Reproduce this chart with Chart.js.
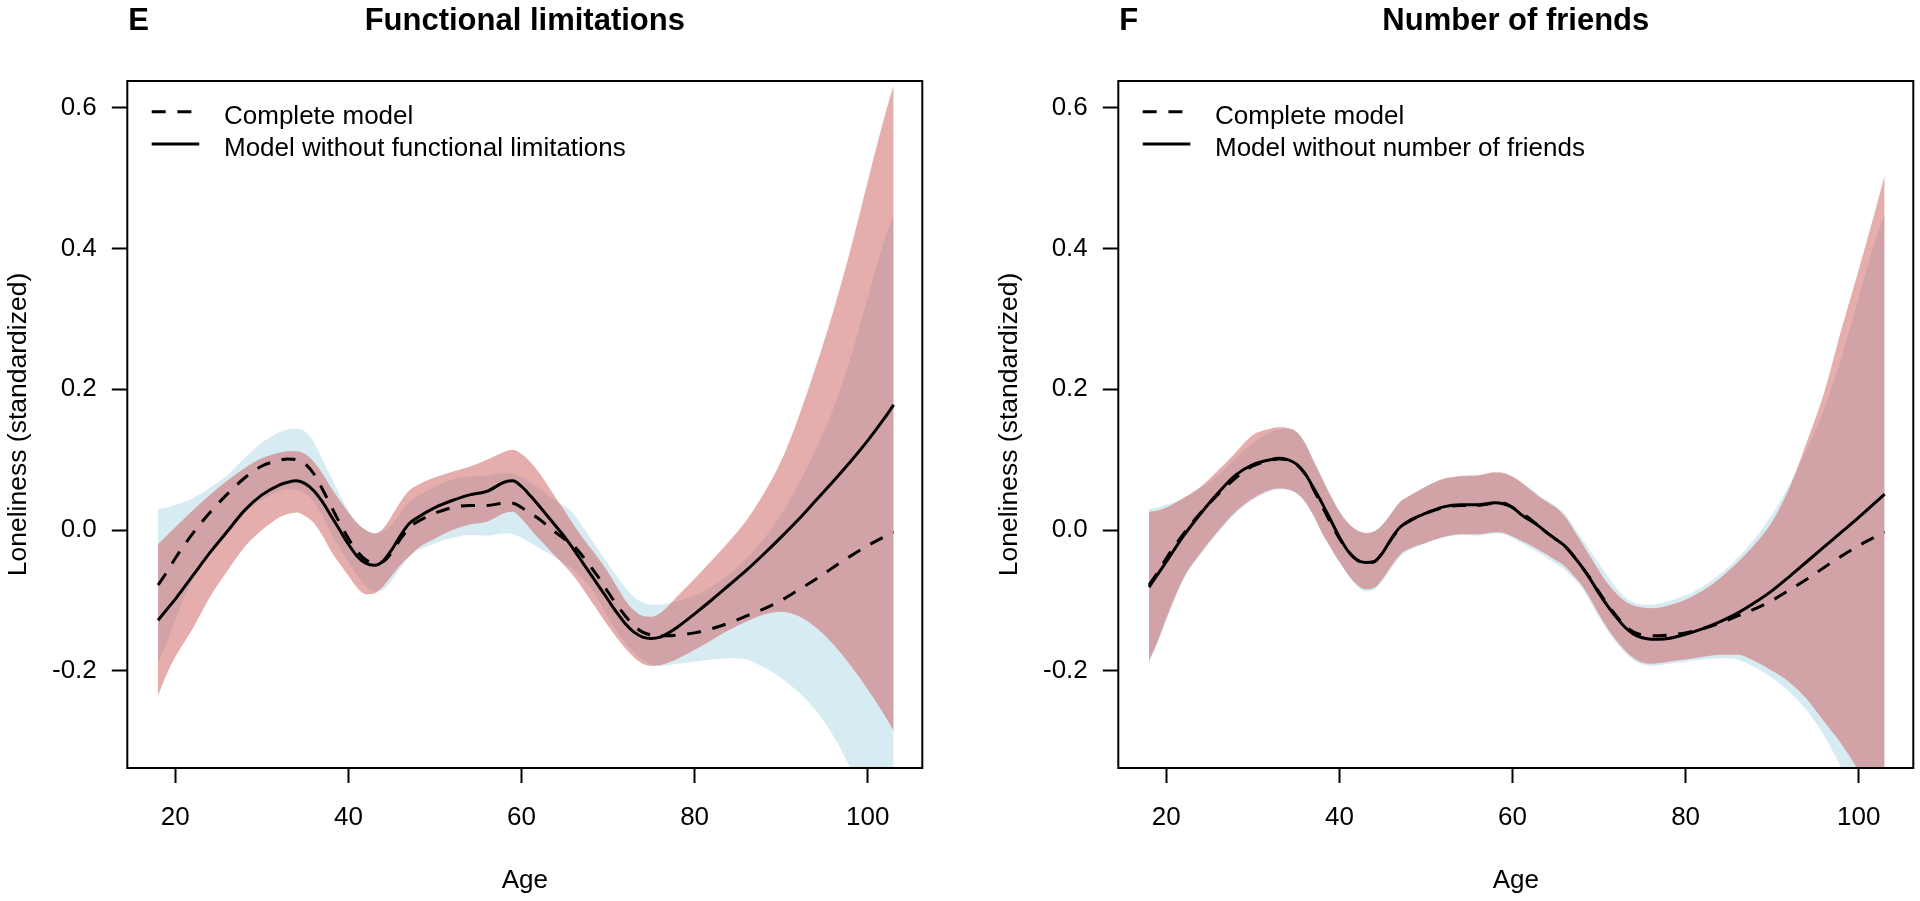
<!DOCTYPE html>
<html>
<head>
<meta charset="utf-8">
<script src="https://cdn.jsdelivr.net/npm/chart.js@4.4.1/dist/chart.umd.min.js"></script>
<style>
html,body{margin:0;padding:0;background:#fff;width:1920px;height:901px;overflow:hidden}
.panel{position:absolute;top:0;width:960px;height:901px}
</style>
</head>
<body>
<div class="panel" style="left:0"><canvas id="panelE" width="960" height="901"></canvas></div>
<div class="panel" style="left:960px"><canvas id="panelF" width="960" height="901"></canvas></div>
<script>
// ---------- DATA ----------
const ages = [18,19,20,22,24,26,28,30,32,33,34,35,36,37,38,39,40,41,42,43,44,45,46,47,48,50,52,54,56,58,59,60,61,62,63,64,65,66,67,68,69,70,71,72,73,74,75,76,77,78,80,82,84,86,88,90,92,94,96,98,100,102,103];

// Complete model (dashed line + light blue band), same in both panels
const completeEstimate = [-0.078,-0.060,-0.040,-0.005,0.025,0.051,0.074,0.091,0.099,0.101,0.100,0.094,0.080,0.058,0.034,0.010,-0.012,-0.030,-0.042,-0.047,-0.045,-0.032,-0.013,0.003,0.012,0.024,0.032,0.035,0.035,0.038,0.038,0.032,0.024,0.016,0.006,-0.004,-0.013,-0.022,-0.036,-0.052,-0.069,-0.088,-0.106,-0.122,-0.136,-0.145,-0.149,-0.150,-0.150,-0.149,-0.146,-0.140,-0.132,-0.122,-0.112,-0.100,-0.085,-0.070,-0.053,-0.037,-0.022,-0.009,-0.003];
const completeUpper = [0.030,0.032,0.036,0.045,0.060,0.078,0.102,0.124,0.139,0.143,0.144,0.140,0.125,0.100,0.075,0.050,0.028,0.010,0.000,-0.004,-0.002,0.008,0.024,0.040,0.048,0.062,0.072,0.076,0.077,0.081,0.080,0.075,0.068,0.060,0.050,0.042,0.034,0.024,0.006,-0.012,-0.030,-0.048,-0.066,-0.082,-0.095,-0.103,-0.106,-0.106,-0.104,-0.101,-0.093,-0.080,-0.062,-0.040,-0.012,0.022,0.065,0.115,0.172,0.245,0.330,0.415,0.448];
const completeLower = [-0.188,-0.160,-0.128,-0.070,-0.034,-0.003,0.024,0.043,0.055,0.058,0.057,0.052,0.040,0.020,-0.005,-0.026,-0.046,-0.064,-0.079,-0.087,-0.085,-0.072,-0.054,-0.038,-0.029,-0.019,-0.011,-0.007,-0.008,-0.005,-0.006,-0.011,-0.018,-0.025,-0.032,-0.040,-0.048,-0.056,-0.068,-0.082,-0.102,-0.124,-0.143,-0.160,-0.174,-0.185,-0.191,-0.193,-0.192,-0.190,-0.187,-0.184,-0.182,-0.184,-0.195,-0.210,-0.230,-0.256,-0.292,-0.338,-0.390,-0.440,-0.465];

// Panel E: model without functional limitations (solid line + red band)
const noFunctionalEstimate = [-0.128,-0.113,-0.098,-0.065,-0.032,-0.002,0.028,0.050,0.064,0.068,0.070,0.066,0.056,0.040,0.020,0.000,-0.020,-0.037,-0.047,-0.050,-0.044,-0.028,-0.008,0.009,0.018,0.032,0.042,0.050,0.055,0.068,0.070,0.062,0.049,0.035,0.020,0.005,-0.010,-0.027,-0.045,-0.063,-0.081,-0.099,-0.117,-0.133,-0.145,-0.152,-0.154,-0.152,-0.146,-0.138,-0.119,-0.099,-0.078,-0.057,-0.034,-0.010,0.015,0.042,0.069,0.097,0.127,0.160,0.178];
const noFunctionalUpper = [-0.020,-0.008,0.004,0.028,0.050,0.070,0.088,0.102,0.110,0.112,0.112,0.108,0.097,0.080,0.060,0.042,0.025,0.010,0.000,-0.005,0.002,0.020,0.040,0.056,0.064,0.075,0.083,0.090,0.100,0.111,0.114,0.108,0.097,0.082,0.064,0.045,0.027,0.008,-0.010,-0.026,-0.042,-0.060,-0.080,-0.100,-0.114,-0.122,-0.123,-0.118,-0.107,-0.094,-0.069,-0.043,-0.016,0.014,0.052,0.098,0.160,0.232,0.310,0.398,0.495,0.590,0.632];
const noFunctionalLower = [-0.235,-0.205,-0.180,-0.140,-0.095,-0.058,-0.024,0.000,0.018,0.023,0.025,0.020,0.010,-0.008,-0.030,-0.048,-0.065,-0.082,-0.091,-0.090,-0.080,-0.065,-0.050,-0.038,-0.026,-0.012,0.000,0.008,0.012,0.024,0.026,0.016,0.002,-0.012,-0.025,-0.038,-0.051,-0.065,-0.082,-0.100,-0.118,-0.136,-0.153,-0.168,-0.181,-0.190,-0.193,-0.192,-0.188,-0.183,-0.170,-0.156,-0.142,-0.130,-0.120,-0.116,-0.122,-0.138,-0.162,-0.192,-0.226,-0.264,-0.285];

// Panel F: model without number of friends (solid line + red band)
const noFriendsEstimate = [-0.081,-0.063,-0.045,-0.008,0.024,0.053,0.078,0.093,0.100,0.102,0.100,0.094,0.081,0.060,0.038,0.014,-0.010,-0.030,-0.042,-0.046,-0.045,-0.032,-0.012,0.004,0.013,0.024,0.033,0.036,0.036,0.039,0.037,0.032,0.022,0.014,0.006,-0.004,-0.013,-0.022,-0.036,-0.052,-0.070,-0.090,-0.108,-0.124,-0.138,-0.148,-0.153,-0.155,-0.155,-0.154,-0.148,-0.140,-0.130,-0.118,-0.103,-0.086,-0.066,-0.045,-0.024,-0.003,0.018,0.040,0.051];
const noFriendsUpper = [0.026,0.028,0.032,0.046,0.062,0.085,0.110,0.135,0.144,0.146,0.145,0.140,0.124,0.098,0.073,0.048,0.026,0.010,0.000,-0.004,-0.002,0.008,0.024,0.040,0.048,0.062,0.073,0.077,0.078,0.082,0.081,0.076,0.068,0.058,0.048,0.040,0.032,0.020,0.002,-0.018,-0.038,-0.058,-0.076,-0.090,-0.101,-0.107,-0.110,-0.111,-0.110,-0.107,-0.099,-0.086,-0.068,-0.046,-0.020,0.012,0.060,0.125,0.195,0.285,0.370,0.458,0.504];
const noFriendsLower = [-0.186,-0.158,-0.125,-0.068,-0.032,-0.001,0.026,0.045,0.057,0.059,0.058,0.053,0.041,0.021,-0.004,-0.025,-0.045,-0.063,-0.077,-0.084,-0.082,-0.069,-0.051,-0.035,-0.027,-0.018,-0.010,-0.006,-0.006,-0.003,-0.004,-0.009,-0.015,-0.021,-0.028,-0.035,-0.043,-0.051,-0.064,-0.078,-0.098,-0.120,-0.140,-0.157,-0.171,-0.182,-0.188,-0.190,-0.189,-0.187,-0.184,-0.180,-0.177,-0.177,-0.186,-0.200,-0.216,-0.240,-0.272,-0.304,-0.342,-0.385,-0.410];

// Axes
const xTicks = [20, 40, 60, 80, 100];
const yTicks = [-0.2, 0.0, 0.2, 0.4, 0.6];
const xRange = [14.45, 106.31];
const yRange = [-0.338, 0.638];

// Text
const xTitle = 'Age';
const yTitle = 'Loneliness (standardized)';
const legendE = ['Complete model', 'Model without functional limitations'];
const legendF = ['Complete model', 'Model without number of friends'];

// ---------- STYLE ----------
const FONT = '"Liberation Sans", Arial, Helvetica, sans-serif';
const BLUE = 'rgba(173,216,230,0.5)';
const RED = 'rgba(205,92,92,0.5)';
const DASH = [14, 11.7];
const LW = 3;
const NONE = 'rgba(0,0,0,0)';

const pts = arr => ages.map((a, i) => ({x: a, y: arr[i]}));

const panelDecor = {
  id: 'panelDecor',
  afterDraw(chart, args, opts) {
    const ctx = chart.ctx, a = chart.chartArea;
    ctx.save();
    ctx.strokeStyle = '#000';
    ctx.lineWidth = 2;
    ctx.setLineDash([]);
    ctx.strokeRect(a.left, a.top, a.right - a.left, a.bottom - a.top);
    ctx.fillStyle = '#000';
    ctx.font = 'bold 31px ' + FONT;
    ctx.textBaseline = 'alphabetic';
    ctx.textAlign = 'left';
    ctx.fillText(opts.letter, a.left + 1, 29.5);
    ctx.textAlign = 'center';
    ctx.fillText(opts.title, (a.left + a.right) / 2, 29.5);
    // legend (line styles taken from the datasets)
    const ds = chart.data.datasets;
    const items = [ds[1], ds[0]];
    const x0 = a.left + 24.4, x1 = a.left + 72, tx = a.left + 96.7;
    const lineY = [a.top + 30.7, a.top + 63];
    const textY = [a.top + 43.3, a.top + 75.3];
    ctx.font = '26px ' + FONT;
    ctx.textAlign = 'left';
    items.forEach((d, i) => {
      ctx.beginPath();
      ctx.lineWidth = d.borderWidth;
      ctx.strokeStyle = d.borderColor;
      ctx.setLineDash(d.borderDash || []);
      ctx.moveTo(x0, lineY[i]);
      ctx.lineTo(x1, lineY[i]);
      ctx.stroke();
      ctx.fillText(d.label, tx, textY[i]);
    });
    ctx.restore();
  }
};

function makePanel(id, cfg) {
  return new Chart(document.getElementById(id), {
    type: 'line',
    data: {
      datasets: [
        {label: cfg.legend[1], data: pts(cfg.estimate), borderColor: '#000', borderWidth: LW, pointRadius: 0, fill: false, cubicInterpolationMode: 'monotone'},
        {label: cfg.legend[0], data: pts(completeEstimate), borderColor: '#000', borderWidth: LW, borderDash: DASH, pointRadius: 0, fill: false, cubicInterpolationMode: 'monotone'},
        {label: 'upper', data: pts(cfg.upper), borderColor: NONE, borderWidth: 0, pointRadius: 0, backgroundColor: RED, fill: '+1', cubicInterpolationMode: 'monotone'},
        {label: 'lower', data: pts(cfg.lower), borderColor: NONE, borderWidth: 0, pointRadius: 0, fill: false, cubicInterpolationMode: 'monotone'},
        {label: 'complete upper', data: pts(completeUpper), borderColor: NONE, borderWidth: 0, pointRadius: 0, backgroundColor: BLUE, fill: '+1', cubicInterpolationMode: 'monotone'},
        {label: 'complete lower', data: pts(completeLower), borderColor: NONE, borderWidth: 0, pointRadius: 0, fill: false, cubicInterpolationMode: 'monotone'}
      ]
    },
    options: {
      responsive: false,
      animation: false,
      devicePixelRatio: 1,
      layout: {padding: {left: cfg.padLeft, right: cfg.padRight, top: 81, bottom: 0}},
      plugins: {
        legend: {display: false},
        tooltip: {enabled: false},
        panelDecor: {letter: cfg.letter, title: cfg.title}
      },
      scales: {
        x: {
          type: 'linear',
          min: xRange[0], max: xRange[1],
          afterBuildTicks: s => { s.ticks = xTicks.map(v => ({value: v})); },
          afterFit: s => { s.height = 133; },
          grid: {display: true, drawOnChartArea: false, drawTicks: true, tickLength: 15, tickWidth: 2, tickColor: '#000'},
          border: {display: false},
          ticks: {color: '#000', font: {family: FONT, size: 26}, padding: 19, maxRotation: 0, autoSkip: false, callback: v => String(v)},
          title: {display: true, text: xTitle, color: '#000', font: {family: FONT, size: 26}, padding: {top: 0, bottom: 5}}
        },
        y: {
          type: 'linear',
          min: yRange[0], max: yRange[1],
          afterBuildTicks: s => { s.ticks = yTicks.map(v => ({value: v})); },
          afterFit: s => { s.width = 127.3; },
          grid: {display: true, drawOnChartArea: false, drawTicks: true, tickLength: 15.5, tickWidth: 2, tickColor: '#000'},
          border: {display: false},
          ticks: {color: '#000', font: {family: FONT, size: 26}, padding: 15, callback: v => Number(v).toFixed(1)},
          title: {display: true, text: yTitle, color: '#000', font: {family: FONT, size: 26.5}, padding: {top: 3, bottom: 0}}
        }
      }
    },
    plugins: [panelDecor]
  });
}

makePanel('panelE', {letter: 'E', title: 'Functional limitations', legend: legendE,
  estimate: noFunctionalEstimate, upper: noFunctionalUpper, lower: noFunctionalLower, padLeft: 0, padRight: 37.7});
makePanel('panelF', {letter: 'F', title: 'Number of friends', legend: legendF,
  estimate: noFriendsEstimate, upper: noFriendsUpper, lower: noFriendsLower, padLeft: 31, padRight: 6.7});
</script>
</body>
</html>
